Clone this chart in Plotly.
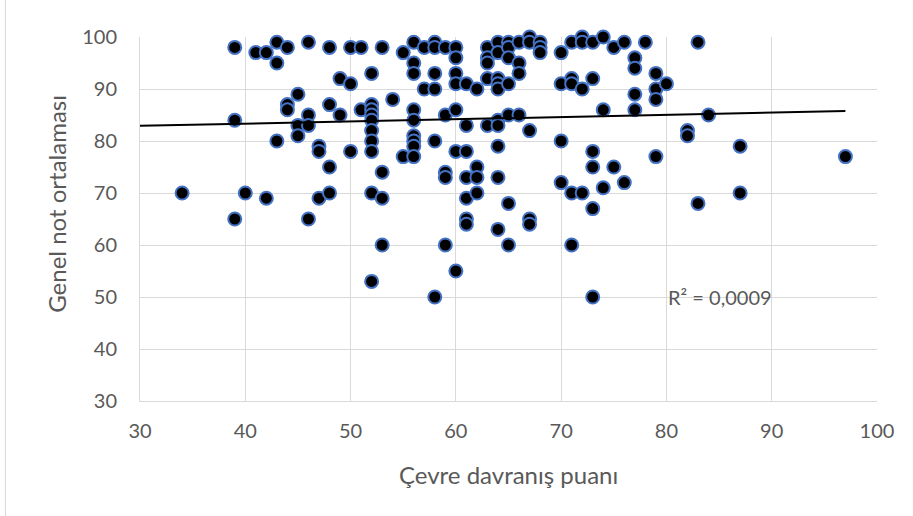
import numpy as np
import plotly.graph_objects as go

# Çevre davranış puanı (x) and Genel not ortalaması (y)
cevre = [
    34,
    39, 39, 39,
    40,
    41,
    42, 42,
    43, 43, 43,
    44, 44, 44,
    45, 45, 45,
    46, 46, 46, 46,
    47, 47, 47,
    48, 48, 48, 48,
    49, 49,
    50, 50, 50,
    51, 51,
    52, 52, 52, 52, 52, 52, 52, 52, 52, 52,
    53, 53, 53, 53,
    54,
    55, 55,
    56, 56, 56, 56, 56, 56, 56, 56, 56,
    57, 57,
    58, 58, 58, 58, 58, 58,
    59, 59, 59, 59, 59,
    60, 60, 60, 60, 60, 60, 60,
    61, 61, 61, 61, 61, 61, 61,
    62, 62, 62, 62,
    63, 63, 63, 63, 63,
    64, 64, 64, 64, 64, 64, 64, 64, 64, 64,
    65, 65, 65, 65, 65, 65, 65,
    66, 66, 66, 66,
    67, 67, 67, 67, 67,
    68, 68, 68,
    70, 70, 70, 70,
    71, 71, 71, 71, 71,
    72, 72, 72, 72,
    73, 73, 73, 73, 73, 73,
    74, 74, 74,
    75, 75,
    76, 76,
    77, 77, 77, 77,
    78,
    79, 79, 79, 79,
    80,
    82, 82,
    83, 83,
    84,
    87, 87,
    97,
]
genel_not = [
    70,
    98, 84, 65,
    70,
    97,
    97, 69,
    99, 95, 80,
    98, 87, 86,
    89, 83, 81,
    99, 85, 83, 65,
    79, 78, 69,
    98, 87, 75, 70,
    92, 85,
    98, 91, 78,
    98, 86,
    93, 87, 86, 85, 84, 82, 80, 78, 70, 53,
    98, 74, 69, 60,
    88,
    97, 77,
    99, 95, 93, 86, 84, 81, 80, 79, 77,
    98, 90,
    99, 98, 93, 90, 80, 50,
    98, 85, 74, 73, 60,
    98, 96, 93, 91, 86, 78, 55,
    91, 83, 78, 73, 69, 65, 64,
    90, 75, 73, 70,
    98, 96, 95, 92, 83,
    99, 97, 92, 91, 90, 84, 83, 79, 73, 63,
    99, 98, 96, 91, 85, 68, 60,
    99, 95, 93, 85,
    100, 99, 82, 65, 64,
    99, 98, 97,
    97, 91, 80, 72,
    99, 92, 91, 70, 60,
    100, 99, 90, 70,
    99, 92, 78, 75, 67, 50,
    100, 86, 71,
    98, 75,
    99, 72,
    96, 94, 89, 86,
    99,
    93, 90, 88, 77,
    91,
    82, 81,
    99, 68,
    85,
    79, 70,
    77,
]

x_ticks = [30, 40, 50, 60, 70, 80, 90, 100]
y_ticks = [30, 40, 50, 60, 70, 80, 90, 100]
r2_label = "R² = 0,0009"
x_title = "Çevre davranış puanı"
y_title = "Genel not ortalaması"

x = np.array(cevre, dtype=float)
y = np.array(genel_not, dtype=float)
slope, intercept = np.polyfit(x, y, 1)
trend_x = np.array([x_ticks[0], x.max()])
trend_y = slope * trend_x + intercept

grey = "#595959"
grid = "#d9d9d9"
font_family = "Lato, 'Open Sans', sans-serif"

fig = go.Figure()
fig.add_trace(go.Scatter(
    x=cevre, y=genel_not, mode="markers", cliponaxis=False,
    marker=dict(size=13, color="black", line=dict(color="#4472C4", width=2)),
    showlegend=False, hoverinfo="x+y",
))
fig.add_trace(go.Scatter(
    x=trend_x, y=trend_y, mode="lines",
    line=dict(color="black", width=2),
    showlegend=False, hoverinfo="skip",
))

fig.add_annotation(
    x=80, y=50, xref="x", yref="y", text=r2_label, showarrow=False,
    xanchor="left", yanchor="middle",
    font=dict(family=font_family, size=20, color=grey),
)
# axis titles
fig.add_annotation(
    x=0.5, y=-0.2014, xref="paper", yref="paper", text=x_title, showarrow=False,
    xanchor="center", yanchor="middle",
    font=dict(family=font_family, size=24, color=grey),
)
fig.add_annotation(
    x=-0.1134, y=0.543, xref="paper", yref="paper", text=y_title, showarrow=False,
    xanchor="center", yanchor="middle", textangle=-90,
    font=dict(family=font_family, size=24, color=grey),
)

fig.add_shape(type="line", xref="paper", yref="paper",
              x0=-0.1826, x1=-0.1826, y0=-1, y1=2,
              line=dict(color=grid, width=1))

fig.update_xaxes(
    range=[30, 100], tickvals=x_ticks, ticktext=[str(t) for t in x_ticks],
    showgrid=True, gridcolor=grid, gridwidth=1,
    showline=True, linecolor=grid, linewidth=1,
    zeroline=False, ticks="", ticklen=0, ticklabelstandoff=12,
    tickfont=dict(family=font_family, size=20, color=grey),
    automargin=False,
)
fig.update_yaxes(
    range=[30, 100], tickvals=y_ticks, ticktext=[str(t) for t in y_ticks],
    showgrid=True, gridcolor=grid, gridwidth=1,
    showline=True, linecolor=grid, linewidth=1,
    zeroline=False, ticks="", ticklen=0, ticklabelstandoff=18,
    tickfont=dict(family=font_family, size=20, color=grey),
    automargin=False,
)

fig.update_layout(
    width=913, height=516,
    margin=dict(l=140, r=36, t=37, b=115),
    paper_bgcolor="white", plot_bgcolor="white",
)

fig.write_html("out.html", config={"displayModeBar": False},
               post_script="document.body.style.margin='0';")
